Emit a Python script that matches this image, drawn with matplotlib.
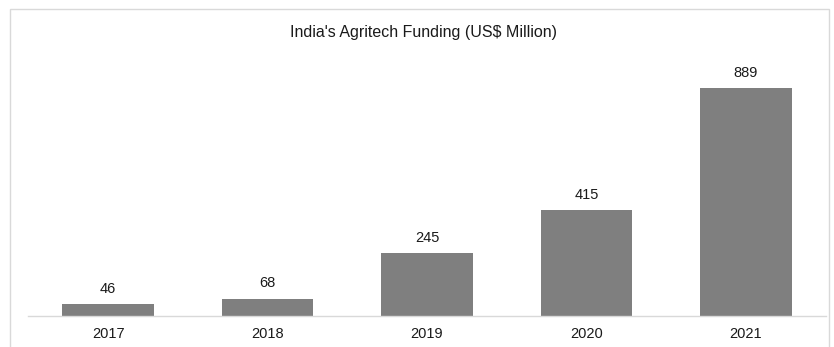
import matplotlib
matplotlib.use("Agg")
import matplotlib.pyplot as plt
from matplotlib.patches import Rectangle

# data
years = ['2017', '2018', '2019', '2020', '2021']
funding = [46, 68, 245, 415, 889]

plt.rcParams['font.family'] = ['Liberation Sans', 'DejaVu Sans']

fig = plt.figure(figsize=(8.34, 3.47), dpi=100)
ax = fig.add_axes([0.034, 0.089, 0.956, 0.738])

x = range(len(years))
bars = ax.bar(x, funding, width=0.575, color='#7f7f7f')

for i, v in enumerate(funding):
    ax.annotate(str(v), (i, v), xytext=(0, 6), textcoords='offset points',
                ha='center', va='bottom', fontsize=10.5, color='#1a1a1a')

ax.set_xlim(-0.5, len(years) - 0.5)
ax.set_ylim(0, 1000)
ax.set_xticks(list(x))
ax.set_xticklabels(years, fontsize=10.5, color='#1a1a1a')
ax.tick_params(axis='x', length=0, pad=8)
ax.set_yticks([])
for s in ['top', 'right', 'left']:
    ax.spines[s].set_visible(False)
ax.spines['bottom'].set_color('#d9d9d9')
ax.spines['bottom'].set_linewidth(1)

fig.text(0.508, 0.905, "India's Agritech Funding (US$ Million)", ha='center',
         va='center', fontsize=11.5, color='#1a1a1a')

# light outer border
fig.patches.append(Rectangle((0.012, -0.05), 0.982, 1.023, transform=fig.transFigure,
                             fill=False, edgecolor='#d9d9d9', linewidth=1))

fig.savefig('out.png', dpi=100)
